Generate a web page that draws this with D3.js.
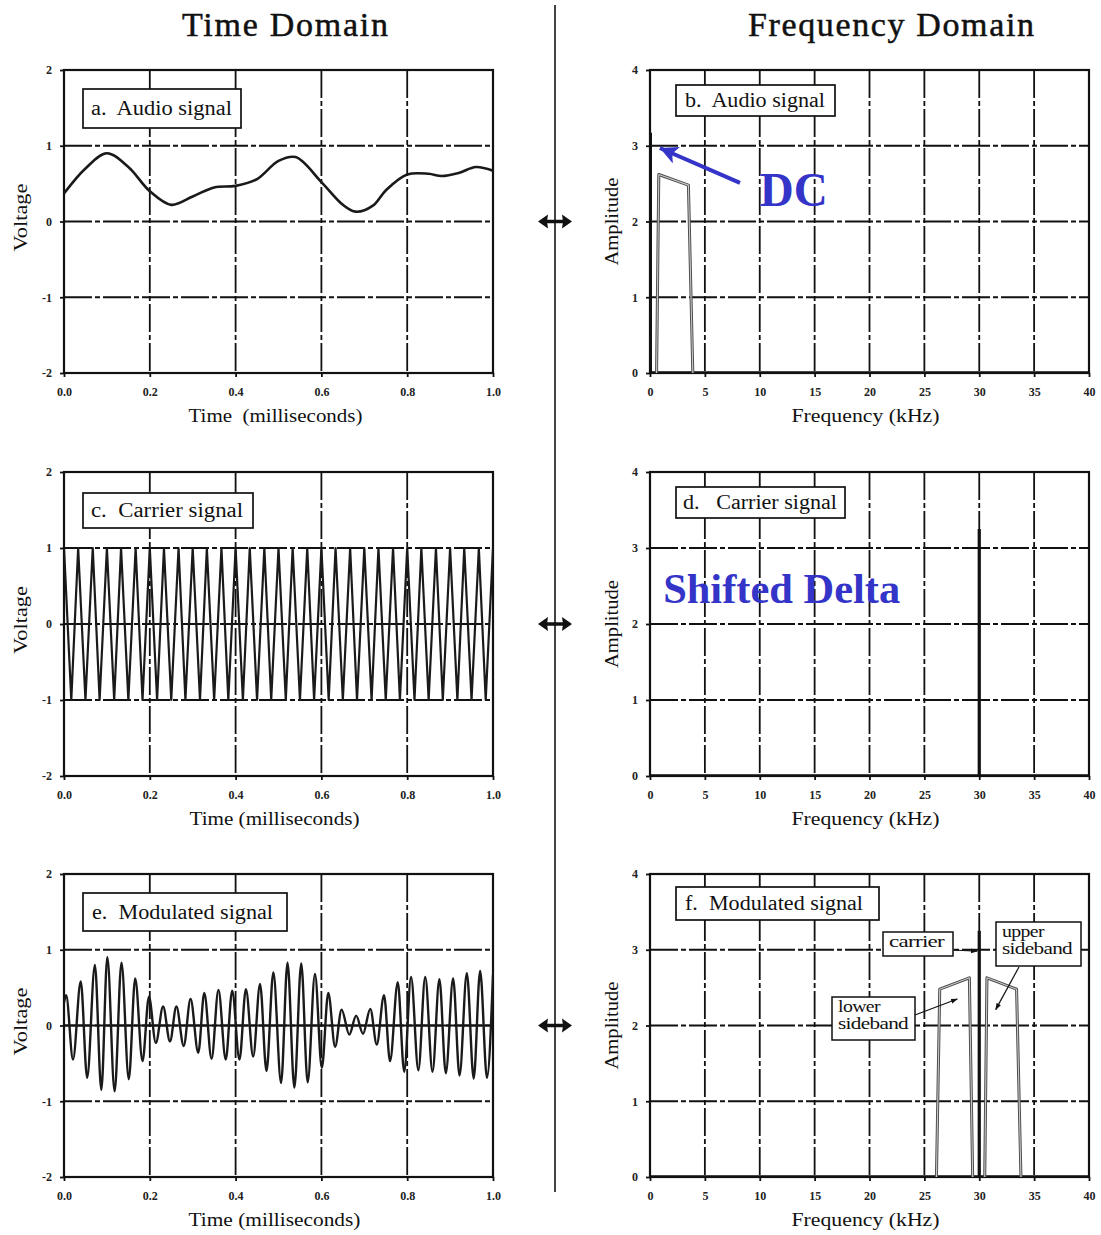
<!DOCTYPE html>
<html>
<head>
<meta charset="utf-8">
<script src="https://cdn.jsdelivr.net/npm/d3@7/dist/d3.min.js"></script>
<style>
  html, body { margin: 0; padding: 0; background: #fff; }
  svg { display: block; }
  text { font-family: "Liberation Serif", "Times New Roman", serif; fill: #111; }
</style>
</head>
<body>
<div id="chart"></div>
<script>
// ---- data ----------------------------------------------------------------
// Audio signal (voltage vs. time in ms)
const audioT = [0, 0.05, 0.1, 0.15, 0.2, 0.25, 0.3, 0.35, 0.4, 0.45, 0.5, 0.54, 0.6, 0.65, 0.68, 0.72, 0.75, 0.8, 0.85, 0.88, 0.92, 0.96, 1.0];
const audioV = [0.37, 0.70, 0.90, 0.72, 0.40, 0.22, 0.33, 0.45, 0.47, 0.56, 0.80, 0.85, 0.52, 0.22, 0.13, 0.21, 0.41, 0.62, 0.63, 0.60, 0.64, 0.72, 0.67];

// Carrier signal: successive crests and troughs of the 30 kHz carrier
const carrierT = [0, 0.017, 0.033, 0.05, 0.067, 0.083, 0.1, 0.117, 0.133, 0.15, 0.167, 0.183, 0.2, 0.217, 0.233, 0.25, 0.267, 0.283, 0.3, 0.317, 0.333, 0.35, 0.367, 0.383, 0.4, 0.417, 0.433, 0.45, 0.467, 0.483, 0.5, 0.517, 0.533, 0.55, 0.567, 0.583, 0.6, 0.617, 0.633, 0.65, 0.667, 0.683, 0.7, 0.717, 0.733, 0.75, 0.767, 0.783, 0.8, 0.817, 0.833, 0.85, 0.867, 0.883, 0.9, 0.917, 0.933, 0.95, 0.967, 0.983, 1.0];
const carrierV = [1, -1, 1, -1, 1, -1, 1, -1, 1, -1, 1, -1, 1, -1, 1, -1, 1, -1, 1, -1, 1, -1, 1, -1, 1, -1, 1, -1, 1, -1, 1, -1, 1, -1, 1, -1, 1, -1, 1, -1, 1, -1, 1, -1, 1, -1, 1, -1, 1, -1, 1, -1, 1, -1, 1, -1, 1, -1, 1, -1, 1];

// Modulated signal: crests and troughs of the AM waveform
const modT = [0, 0.005, 0.021, 0.039, 0.054, 0.072, 0.087, 0.101, 0.118, 0.134, 0.151, 0.166, 0.183, 0.198, 0.214, 0.231, 0.247, 0.262, 0.279, 0.295, 0.313, 0.327, 0.344, 0.36, 0.377, 0.392, 0.409, 0.424, 0.441, 0.457, 0.472, 0.488, 0.506, 0.521, 0.537, 0.553, 0.568, 0.585, 0.601, 0.616, 0.632, 0.647, 0.665, 0.681, 0.697, 0.714, 0.729, 0.746, 0.76, 0.778, 0.793, 0.809, 0.826, 0.842, 0.859, 0.875, 0.89, 0.907, 0.922, 0.939, 0.955, 0.970, 0.986, 1.0];
const modV = [0.30, 0.40, -0.45, 0.58, -0.69, 0.80, -0.85, 0.90, -0.87, 0.83, -0.71, 0.62, -0.47, 0.38, -0.23, 0.25, -0.21, 0.25, -0.27, 0.35, -0.36, 0.43, -0.44, 0.47, -0.45, 0.46, -0.45, 0.48, -0.41, 0.55, -0.60, 0.70, -0.76, 0.83, -0.82, 0.82, -0.75, 0.68, -0.56, 0.43, -0.28, 0.21, -0.12, 0.13, -0.11, 0.22, -0.25, 0.40, -0.47, 0.57, -0.61, 0.64, -0.59, 0.64, -0.61, 0.61, -0.63, 0.62, -0.66, 0.69, -0.70, 0.72, -0.69, 0.67];

// Spectra (amplitude vs. frequency in kHz)
const audioDcF = [0, 0];         const audioDcA = [0, 3.17];
const audioBandF = [0.6, 0.8, 3.5, 3.9];  const audioBandA = [0, 2.62, 2.48, 0];
const carrierSpikeF = [30, 30];  const carrierSpikeA = [0, 3.25];
const lowerBandF = [26.1, 26.4, 29.1, 29.4]; const lowerBandA = [0, 2.48, 2.63, 0];
const upperBandF = [30.5, 30.7, 33.4, 33.8]; const upperBandA = [0, 2.63, 2.48, 0];
const baselineF = [0, 40];       const baselineA = [0, 0];

// Tick labels
const timeTicks = [0, 0.2, 0.4, 0.6, 0.8, 1.0];
const timeTickLabels = ["0.0", "0.2", "0.4", "0.6", "0.8", "1.0"];
const voltTicks = [-2, -1, 0, 1, 2];
const freqTicks = [0, 5, 10, 15, 20, 25, 30, 35, 40];
const ampTicks = [0, 1, 2, 3, 4];

// ---- layout --------------------------------------------------------------
const W = 1101, H = 1235;
const rows = [{ top: 70, bottom: 373 }, { top: 472, bottom: 776 }, { top: 874, bottom: 1177 }];
const leftCol = { x0: 64, x1: 493 };
const rightCol = { x0: 650, x1: 1089 };
const BLUE = "#3434c8";

const svg = d3.select("#chart").append("svg").attr("width", W).attr("height", H);
const defs = svg.append("defs");

const zip = (xs, ys) => xs.map((x, i) => [x, ys[i]]);

function panel(id, col, row, kind, opts) {
  const x = d3.scaleLinear().domain(kind === "time" ? [0, 1] : [0, 40]).range([col.x0, col.x1]);
  const y = d3.scaleLinear().domain(kind === "time" ? [-2, 2] : [0, 4]).range([row.bottom, row.top]);
  const xt = kind === "time" ? timeTicks : freqTicks;
  const yt = kind === "time" ? voltTicks : ampTicks;
  const g = svg.append("g").attr("class", "panel-" + id);

  defs.append("clipPath").attr("id", "clip-" + id)
    .append("rect").attr("x", col.x0).attr("y", row.top)
    .attr("width", col.x1 - col.x0).attr("height", row.bottom - row.top);

  // dash-dot grid
  const grid = g.append("g").attr("stroke", "#111").attr("stroke-width", 1.8)
    .attr("stroke-dasharray", "28,3,5,3");
  grid.selectAll("line.v").data(xt.slice(1, -1)).join("line").attr("class", "v")
    .attr("x1", d => x(d)).attr("x2", d => x(d)).attr("y1", row.top).attr("y2", row.bottom);
  grid.selectAll("line.h").data(yt.slice(1, -1)).join("line").attr("class", "h")
    .attr("x1", col.x0).attr("x2", col.x1).attr("y1", d => y(d)).attr("y2", d => y(d));

  // axes
  const xa = g.append("g").attr("transform", `translate(0,${row.bottom})`)
    .call(d3.axisBottom(x).tickValues(xt).tickSize(4).tickPadding(10)
      .tickFormat((d, i) => kind === "time" ? timeTickLabels[i] : String(d)));
  const ya = g.append("g").attr("transform", `translate(${col.x0},0)`)
    .call(d3.axisLeft(y).tickValues(yt).tickSize(4).tickPadding(8).tickFormat(d => String(d)));
  [xa, ya].forEach(a => {
    a.select(".domain").remove();
    a.selectAll(".tick line").attr("stroke", "#111").attr("stroke-width", 1.8);
    a.selectAll(".tick text").attr("font-family", "'DejaVu Serif', serif")
      .attr("font-weight", "bold").attr("font-size", 12).style("fill", "#222");
  });

  // frame
  g.append("rect").attr("x", col.x0).attr("y", row.top)
    .attr("width", col.x1 - col.x0).attr("height", row.bottom - row.top)
    .attr("fill", "none").attr("stroke", "#111").attr("stroke-width", 2.2);

  // axis titles
  g.append("text").attr("x", (col.x0 + col.x1) / 2 + opts.xTitleDx).attr("y", row.bottom + 49)
    .attr("text-anchor", "middle").attr("font-size", 19).style("white-space", "pre")
    .attr("textLength", opts.xTitleLen).attr("lengthAdjust", "spacingAndGlyphs")
    .text(opts.xTitle);
  const yMid = (row.top + row.bottom) / 2 + opts.yTitleDy;
  g.append("text").attr("transform", `translate(${opts.yTitleX},${yMid}) rotate(-90)`)
    .attr("text-anchor", "middle").attr("font-size", 19)
    .attr("textLength", opts.yTitleLen).attr("lengthAdjust", "spacingAndGlyphs")
    .text(opts.yTitle);

  // caption box
  const b = opts.box;
  g.append("rect").attr("x", b.x).attr("y", b.y).attr("width", b.w).attr("height", b.h)
    .attr("fill", "#fff").attr("stroke", "#111").attr("stroke-width", 1.7);
  g.append("text").attr("x", b.x + b.pad).attr("y", b.y + b.h / 2 + 6.5)
    .attr("font-size", 20).style("white-space", "pre")
    .attr("textLength", b.len).attr("lengthAdjust", "spacingAndGlyphs")
    .text(b.text);

  const plot = g.append("g").attr("clip-path", `url(#clip-${id})`);
  return { x, y, g, plot };
}

function drawLine(p, pts, curve, color, width) {
  const line = d3.line().x(d => p.x(d[0])).y(d => p.y(d[1])).curve(curve);
  return p.plot.append("path").datum(pts).attr("d", line)
    .attr("fill", "none").attr("stroke", color).attr("stroke-width", width)
    .attr("stroke-linejoin", "round");
}
// hollow grey outline used for the sideband shapes
function drawBand(p, pts) {
  drawLine(p, pts, d3.curveLinear, "#4a4a4a", 3);
  drawLine(p, pts, d3.curveLinear, "#c8c8c8", 1.1);
}

const timeOpts = { xTitleDx: -3, xTitleLen: 174, yTitle: "Voltage", yTitleX: 27, yTitleLen: 68, yTitleDy: -4 };
const freqOpts = { xTitle: "Frequency (kHz)", xTitleDx: -4, xTitleLen: 148, yTitle: "Amplitude", yTitleX: 618, yTitleLen: 88, yTitleDy: 0 };

// a. audio signal
const pa = panel("a", leftCol, rows[0], "time", Object.assign({}, timeOpts, {
  xTitle: "Time  (milliseconds)",
  box: { x: 83, y: 89, w: 158, h: 39, pad: 8, len: 141, text: "a.  Audio signal" }
}));
drawLine(pa, zip(audioT, audioV), d3.curveCatmullRom.alpha(0.5), "#1a1a1a", 2.6);

// b. audio spectrum
const pb = panel("b", rightCol, rows[0], "freq", Object.assign({}, freqOpts, {
  box: { x: 676, y: 85, w: 159, h: 31, pad: 9, len: 140, text: "b.  Audio signal" }
}));
drawLine(pb, zip(baselineF, baselineA), d3.curveLinear, "#111", 3.5);
drawBand(pb, zip(audioBandF, audioBandA));
drawLine(pb, zip(audioDcF, audioDcA), d3.curveLinear, "#111", 4);

// c. carrier
const pc = panel("c", leftCol, rows[1], "time", Object.assign({}, timeOpts, {
  xTitle: "Time (milliseconds)", xTitleDx: -4, xTitleLen: 170,
  box: { x: 83, y: 493, w: 170, h: 35, pad: 8, len: 152, text: "c.  Carrier signal" }
}));
drawLine(pc, zip(carrierT, carrierV), d3.curveLinear, "#1a1a1a", 2.2);

// d. carrier spectrum
const pd = panel("d", rightCol, rows[1], "freq", Object.assign({}, freqOpts, {
  box: { x: 676, y: 487, w: 169, h: 31, pad: 7, len: 154, text: "d.   Carrier signal" }
}));
drawLine(pd, zip(baselineF, baselineA), d3.curveLinear, "#111", 3.5);
drawLine(pd, zip(carrierSpikeF, carrierSpikeA), d3.curveLinear, "#111", 3.2);

// e. modulated signal
const pe = panel("e", leftCol, rows[2], "time", Object.assign({}, timeOpts, {
  xTitle: "Time (milliseconds)", xTitleDx: -4, xTitleLen: 172,
  box: { x: 83, y: 893, w: 204, h: 38, pad: 9, len: 181, text: "e.  Modulated signal" }
}));
pe.plot.append("line").attr("x1", pe.x(0)).attr("x2", pe.x(1)).attr("y1", pe.y(0)).attr("y2", pe.y(0))
  .attr("stroke", "#111").attr("stroke-width", 1.8);
drawLine(pe, zip(modT, modV), d3.curveMonotoneX, "#1a1a1a", 2.4);

// f. modulated spectrum
const pf = panel("f", rightCol, rows[2], "freq", Object.assign({}, freqOpts, {
  box: { x: 676, y: 887, w: 203, h: 33, pad: 9, len: 178, text: "f.  Modulated signal" }
}));
drawLine(pf, zip(baselineF, baselineA), d3.curveLinear, "#111", 3.5);
drawBand(pf, zip(lowerBandF, lowerBandA));
drawBand(pf, zip(upperBandF, upperBandA));
drawLine(pf, zip(carrierSpikeF, carrierSpikeA), d3.curveLinear, "#111", 3.2);

// ---- annotations ---------------------------------------------------------
defs.append("marker").attr("id", "headSmall").attr("viewBox", "0 0 10 10")
  .attr("refX", 9).attr("refY", 5).attr("markerWidth", 7).attr("markerHeight", 7)
  .attr("markerUnits", "userSpaceOnUse").attr("orient", "auto")
  .append("path").attr("d", "M0,1.5 L10,5 L0,8.5 Z").attr("fill", "#111");
defs.append("marker").attr("id", "headBlue").attr("viewBox", "0 0 10 10")
  .attr("refX", 10).attr("refY", 5).attr("markerWidth", 18).attr("markerHeight", 18)
  .attr("markerUnits", "userSpaceOnUse").attr("orient", "auto")
  .append("path").attr("d", "M10,5 L0,0 L2.5,5 L0,10 Z").attr("fill", BLUE);

function labelBox(p, bx, lines, fs, lens) {
  const g = p.g.append("g");
  g.append("rect").attr("x", bx.x).attr("y", bx.y).attr("width", bx.w).attr("height", bx.h)
    .attr("fill", "#fff").attr("stroke", "#111").attr("stroke-width", 1.5);
  lines.forEach((t, i) => {
    g.append("text").attr("x", bx.x + 6).attr("y", bx.y + 15 + i * 17)
      .attr("font-size", fs).attr("textLength", lens[i]).attr("lengthAdjust", "spacingAndGlyphs")
      .attr("letter-spacing", -0.5).text(t);
  });
}
function pointer(x1, y1, x2, y2) {
  svg.append("line").attr("x1", x1).attr("y1", y1).attr("x2", x2).attr("y2", y2)
    .attr("stroke", "#111").attr("stroke-width", 1.2).attr("marker-end", "url(#headSmall)");
}

// carrier / sideband labels in panel f
labelBox(pf, { x: 883, y: 932, w: 70, h: 24 }, ["carrier"], 16, [55]);
pointer(953, 950, pf.x(29.8), pf.y(2.98));
labelBox(pf, { x: 996, y: 922, w: 85, h: 44 }, ["upper", "sideband"], 16, [42, 70]);
pointer(1019, 967, pf.x(31.5), pf.y(2.21));
labelBox(pf, { x: 832, y: 997, w: 83, h: 43 }, ["lower", "sideband"], 16, [42, 70]);
pointer(915, 1015, pf.x(28.0), pf.y(2.35));

// DC callout in panel b
svg.append("line").attr("x1", pb.x(8.2)).attr("y1", pb.y(2.51))
  .attr("x2", pb.x(0.9)).attr("y2", pb.y(2.97))
  .attr("stroke", BLUE).attr("stroke-width", 4).attr("marker-end", "url(#headBlue)");
svg.append("text").attr("x", pb.x(10)).attr("y", pb.y(2.2))
  .attr("font-size", 48).attr("font-weight", "bold").style("fill", BLUE)
  .attr("textLength", 68).attr("lengthAdjust", "spacingAndGlyphs").text("DC");

// Shifted-delta callout in panel d
svg.append("text").attr("x", pd.x(1.2)).attr("y", pd.y(2.27))
  .attr("font-size", 42).attr("font-weight", "bold").style("fill", BLUE)
  .attr("textLength", 237).attr("lengthAdjust", "spacingAndGlyphs").text("Shifted Delta");

// ---- column headings, divider and transform arrows -----------------------
svg.append("text").attr("x", 182).attr("y", 36).attr("font-size", 34)
  .style("stroke", "#111").style("stroke-width", 0.5)
  .attr("textLength", 206).attr("lengthAdjust", "spacing").text("Time Domain");
svg.append("text").attr("x", 748).attr("y", 36).attr("font-size", 34)
  .style("stroke", "#111").style("stroke-width", 0.5)
  .attr("textLength", 286).attr("lengthAdjust", "spacing").text("Frequency Domain");

svg.append("line").attr("x1", 555).attr("x2", 555).attr("y1", 5).attr("y2", 1192)
  .attr("stroke", "#444").attr("stroke-width", 2);

const arrowYs = [pa.y(0), pc.y(0), pe.y(0)];
const arrows = svg.append("g").selectAll("g").data(arrowYs).join("g")
  .attr("transform", d => `translate(555,${d})`);
arrows.append("line").attr("x1", -10).attr("x2", 10).attr("stroke", "#111").attr("stroke-width", 3.5);
arrows.append("path").attr("d", "M-17,0 L-7,-7 L-8,0 L-7,7 Z").attr("fill", "#111");
arrows.append("path").attr("d", "M17,0 L7,-7 L8,0 L7,7 Z").attr("fill", "#111");
</script>
</body>
</html>
